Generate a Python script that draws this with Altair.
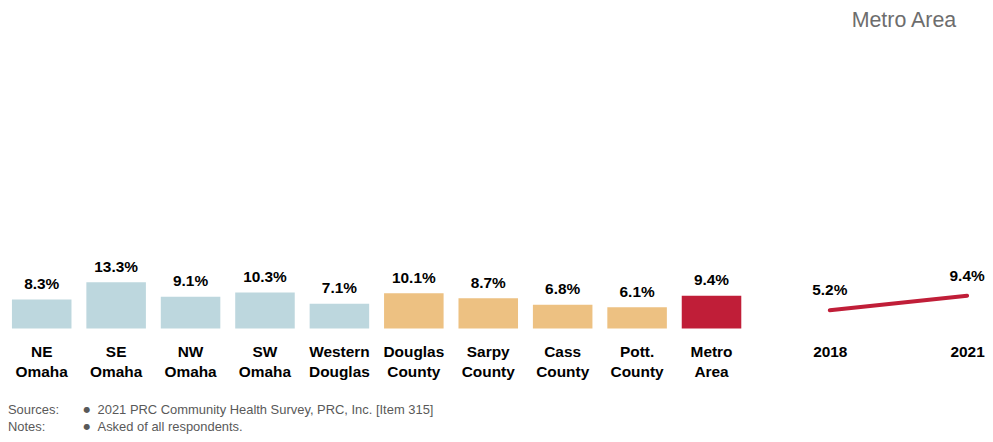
import altair as alt
import pandas as pd

regions = ["NE Omaha", "SE Omaha", "NW Omaha", "SW Omaha", "Western Douglas",
           "Douglas County", "Sarpy County", "Cass County", "Pott. County", "Metro Area"]
values = [8.3, 13.3, 9.1, 10.3, 7.1, 10.1, 8.7, 6.8, 6.1, 9.4]
groups = ["sub", "sub", "sub", "sub", "sub", "county", "county", "county", "county", "metro"]
group_names = ["sub", "county", "metro"]
group_colors = ["#BDD7DE", "#EDC182", "#C01E38"]

years = ["2018", "2021"]
trend = [5.2, 9.4]

title_text = "Metro Area"
note_heads = ["Sources:", "Notes:"]
note_texts = ["2021 PRC Community Health Survey, PRC, Inc. [Item 315]", "Asked of all respondents."]

FONT = "Liberation Sans"
H = 320
YMAX = H / 3.5

bars_df = pd.DataFrame({"region": regions, "value": values, "group": groups})
line_df = pd.DataFrame({"year": years, "value": trend})

yscale = alt.Scale(domain=[0, YMAX])
axis_style = dict(title=None, domain=False, ticks=False, labelAngle=0,
                  labelFont=FONT, labelFontSize=15.5, labelFontWeight="bold",
                  labelColor="#000000", labelPadding=16, labelLineHeight=20,
                  labelExpr="split(datum.label, ' ')")

xb = alt.X("region:N", sort=regions,
           scale=alt.Scale(paddingInner=0.2, paddingOuter=0.053, round=False),
           axis=alt.Axis(**axis_style))
yb = alt.Y("value:Q", scale=yscale, axis=None)

base = alt.Chart(bars_df)
bars = base.mark_bar().encode(
    x=xb, y=yb,
    color=alt.Color("group:N", scale=alt.Scale(domain=group_names, range=group_colors), legend=None),
)
bar_labels = base.mark_text(font=FONT, fontSize=15.5, fontWeight="bold", baseline="bottom",
                            dy=-7.5, color="#000000").transform_calculate(
    lab="format(datum.value, '.1f') + '%'").encode(x=xb, y=yb, text="lab:N")

notes_src = alt.Chart(pd.DataFrame({"d": [0]}))
heads = notes_src.mark_text(font=FONT, fontSize=13, color="#595959", align="left",
                            baseline="middle", lineHeight=18).encode(
    x=alt.value(0), y=alt.value(401.5), text=alt.value(note_heads))
bullets = notes_src.mark_text(font="DejaVu Sans", fontSize=8, color="#595959", align="center",
                              baseline="middle", lineHeight=18).encode(
    x=alt.value(79), y=alt.value(401.5), text=alt.value(["●", "●"]))
texts = notes_src.mark_text(font=FONT, fontSize=13, color="#595959", align="left",
                            baseline="middle", lineHeight=18).encode(
    x=alt.value(90), y=alt.value(401.5), text=alt.value(note_texts))

bar_chart = alt.layer(bars, bar_labels, heads, bullets, texts).properties(width=741, height=H)

xl = alt.X("year:N", sort=years, scale=alt.Scale(type="point", padding=0.094, round=False),
           axis=alt.Axis(**axis_style))
yl = alt.Y("value:Q", scale=yscale, axis=None)
lbase = alt.Chart(line_df)
line = lbase.mark_line(color="#C01E38", strokeWidth=4, strokeCap="round").encode(x=xl, y=yl)
line_labels = lbase.mark_text(font=FONT, fontSize=15.5, fontWeight="bold", baseline="bottom",
                              dy=-12, color="#000000").transform_calculate(
    lab="format(datum.value, '.1f') + '%'").encode(x=xl, y=yl, text="lab:N")
title = alt.Chart(pd.DataFrame({"t": [title_text]})).mark_text(
    font=FONT, fontSize=21.5, color="#6d6d6d", baseline="middle", align="center"
).encode(x=alt.value(87.5), y=alt.value(10.8), text="t:N")

line_chart = alt.layer(line, line_labels, title).properties(width=164, height=H)

chart = alt.hconcat(bar_chart, line_chart, spacing=67).properties(padding=0).configure(
    background="white", view=alt.ViewConfig(stroke="transparent", strokeWidth=0))

chart.save("out.html", embed_options={"renderer": "svg", "actions": False})
